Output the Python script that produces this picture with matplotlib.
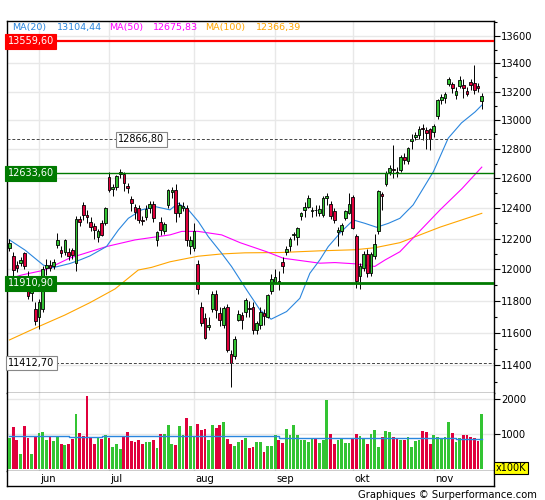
import numpy as np
import matplotlib
matplotlib.use("Agg")
import matplotlib.pyplot as plt
import matplotlib.transforms as mtransforms

# daily candles, late May -> Nov 20
opens = [12140, 12085, 12027, 12040, 12104, 11932, 11850, 11745, 11700, 11745,
         12010, 12027, 12020, 12160, 12125, 12115, 12115, 12125, 12040, 12330,
         12420, 12352, 12310, 12285, 12210, 12300, 12305, 12610, 12525, 12545,
         12630, 12627, 12550, 12460, 12410, 12400, 12325, 12340, 12400, 12430,
         12190, 12310, 12250, 12420, 12505, 12522, 12370, 12400, 12400, 12150,
         12140, 12035, 11763, 11690, 11635, 11750, 11840, 11720, 11645, 11760,
         11470, 11455, 11680, 11710, 11730, 11755, 11760, 11618, 11650, 11720,
         11700, 11860, 11920, 11925, 12050, 12115, 12150, 12220, 12212, 12345,
         12390, 12410, 12380, 12390, 12365, 12352, 12470, 12430, 12380, 12240,
         12250, 12335, 12370, 12475, 12215, 11955, 12010, 12100, 11980, 12085,
         12250, 12495, 12565, 12640, 12660, 12645, 12658, 12745, 12715, 12855,
         12880, 12895, 12945, 12930, 12935, 12915, 13030, 13142, 13155, 13255,
         13250, 13176, 13240, 13245, 13205, 13266, 13262, 13240, 13130]
highs = [12196, 12112, 12055, 12080, 12115, 11990, 11905, 11790, 11810, 12020,
         12070, 12060, 12070, 12235, 12150, 12200, 12140, 12140, 12345, 12350,
         12440, 12390, 12340, 12300, 12265, 12320, 12410, 12640, 12560, 12620,
         12660, 12640, 12570, 12480, 12430, 12420, 12350, 12420, 12450, 12445,
         12250, 12340, 12310, 12530, 12545, 12560, 12440, 12440, 12420, 12215,
         12300, 12060, 11790, 11720, 11700, 11860, 11870, 11760, 11770, 11780,
         11493, 11580, 11740, 11730, 11815, 11800, 11790, 11670, 11760, 11750,
         11845, 11970, 12000, 11990, 12080, 12150, 12210, 12245, 12275, 12375,
         12440, 12490, 12405, 12420, 12420, 12480, 12500, 12450, 12400, 12275,
         12300, 12390, 12500, 12490, 12230, 12040, 12120, 12130, 12110, 12230,
         12520, 12510, 12650, 12690, 12825, 12680, 12760, 12775, 12815, 12900,
         12920, 12960, 12970, 12950, 12945, 12975, 13150, 13185, 13200, 13305,
         13270, 13230, 13310, 13290, 13230, 13290, 13390, 13260, 13190]
lows = [12118, 11960, 11985, 12020, 12005, 11810, 11800, 11650, 11620, 11730,
        11965, 11990, 12000, 12140, 12080, 12090, 12060, 12070, 11990, 12280,
        12320, 12300, 12250, 12200, 12180, 12215, 12290, 12510, 12480, 12520,
        12600, 12515, 12500, 12380, 12330, 12300, 12290, 12320, 12370, 12310,
        12150, 12220, 12230, 12400, 12470, 12310, 12340, 12380, 12150, 12100,
        12120, 11840, 11640, 11560, 11615, 11730, 11690, 11640, 11630, 11480,
        11268, 11440, 11670, 11620, 11700, 11700, 11590, 11590, 11620, 11650,
        11690, 11840, 11910, 11868, 11980, 12090, 12120, 12190, 12160, 12320,
        12340, 12400, 12340, 12350, 12350, 12340, 12420, 12330, 12300, 12150,
        12225, 12320, 12360, 12260, 11880, 11875, 11990, 11950, 11960, 12070,
        12230, 12390, 12550, 12620, 12600, 12610, 12640, 12700, 12700, 12800,
        12860, 12870, 12860, 12800, 12790, 12880, 13010, 13115, 13120, 13240,
        13190, 13150, 13225, 13155, 13170, 13210, 13180, 13200, 13080]
closes = [12169, 11995, 12011, 12062, 12020, 11828, 11880, 11675, 11790, 12000,
          12030, 12010, 12050, 12190, 12105, 12190, 12087, 12092, 12331, 12309,
          12355, 12340, 12278, 12256, 12250, 12225, 12399, 12521, 12540, 12616,
          12640, 12570, 12535, 12436, 12373, 12320, 12318, 12395, 12430, 12335,
          12240, 12255, 12295, 12520, 12522, 12370, 12419, 12415, 12190, 12190,
          12250, 11872, 11658, 11567, 11650, 11845, 11742, 11679, 11755, 11493,
          11413, 11563, 11715, 11680, 11802, 11745, 11615, 11658, 11728, 11701,
          11838, 11939, 11953, 11911, 12025, 12135, 12195, 12228, 12267, 12365,
          12410, 12470, 12385, 12385, 12395, 12470, 12478, 12345, 12320, 12255,
          12288, 12380, 12430, 12267, 11925, 12020, 12100, 11975, 12100, 12165,
          12515, 12480, 12633, 12672, 12654, 12634, 12748, 12725, 12805, 12870,
          12894, 12941, 12939, 12910, 12867, 12961, 13142, 13160, 13182, 13290,
          13228, 13205, 13285, 13222, 13186, 13245, 13212, 13225, 13165]
volumes = [890, 1190, 820, 440, 1220, 890, 440, 940, 1040, 1070,
           830, 920, 800, 940, 710, 690, 710, 860, 1590, 1040,
           950, 2100, 900, 710, 900, 860, 980, 900, 640, 710,
           560, 950, 1070, 810, 770, 830, 710, 770, 770, 830,
           590, 1010, 990, 1250, 710, 690, 1230, 970, 1470, 1220,
           910, 1280, 1120, 1160, 840, 1250, 1170, 1250, 1340, 860,
           720, 650, 770, 830, 890, 590, 620, 770, 770, 480,
           670, 670, 960, 840, 750, 1140, 960, 1260, 960, 830,
           830, 770, 860, 860, 750, 830, 1970, 1010, 720, 830,
           860, 750, 750, 860, 1010, 940, 860, 720, 1010, 1120,
           620, 910, 1100, 1070, 910, 890, 830, 830, 910, 620,
           800, 830, 1100, 1070, 710, 980, 910, 890, 910, 1340,
           1040, 770, 890, 960, 960, 930, 890, 800, 1590]

# moving averages (candle index, value)
ma20_i = [0, 4.2, 9.2, 11.8, 16.4, 19.1, 21.8, 26.3, 29.5, 32.2, 35.8, 39.4, 43.5,
          45.7, 48.5, 51.2, 53.9, 57.5, 60.2, 64.3, 67.9, 70.9, 75.1, 78.7, 81.4,
          84.1, 86.4, 90, 93.2, 96.3, 99.5, 102.7, 105.8, 109.4, 114.9, 118.9,
          122.5, 126.2, 128]
ma20_v = [12191, 12125, 12027, 12011, 12038, 12061, 12087, 12148, 12256, 12333,
          12389, 12411, 12389, 12433, 12389, 12311, 12212, 12104, 12018, 11868,
          11742, 11684, 11732, 11816, 11975, 12061, 12148, 12247, 12322, 12300,
          12274, 12300, 12333, 12422, 12646, 12874, 12980, 13057, 13104]
ma50_i = [0, 3.3, 9.6, 16.4, 21.8, 26.3, 34, 43.5, 46.7, 51.1, 57.5, 62.5, 69.7,
          74.2, 84.1, 88.2, 93.6, 99, 101.8, 105.8, 116.7, 122.6, 128]
ma50_v = [11940, 11964, 11996, 12074, 12114, 12148, 12191, 12224, 12247, 12247,
          12224, 12173, 12114, 12072, 12040, 12044, 12036, 12019, 12061, 12114,
          12389, 12530, 12676]
ma100_i = [0, 7.8, 15, 21.8, 28.6, 34.9, 38.5, 43.5, 51.1, 57.6, 63.8, 73.3, 84.1,
           93.6, 99, 105.8, 116.7, 128]
ma100_v = [11555, 11637, 11710, 11788, 11875, 11996, 12013, 12049, 12085, 12100,
           12107, 12109, 12120, 12127, 12140, 12173, 12275, 12366]

# average volume (steps)
vol_avg_start = [0, 16, 25, 73, 111, 121, 128]
vol_avg_level = [950, 925, 935, 890, 895, 870, 870]

month_names = ["jun", "jul", "aug", "sep", "okt", "nov"]
month_start = [8, 27, 50, 72, 93, 115]

price_ticks = [11400, 11600, 11800, 12000, 12200, 12400, 12600, 12800, 13000, 13200, 13400, 13600]
price_minor = [11300, 11500, 11700, 11900, 12100, 12300, 12500, 12700, 12900, 13100, 13300, 13500, 13700]

levels = [13559.60, 12633.60, 11910.90, 12866.80, 11412.70]
level_text = ["13559,60", "12633,60", "11910,90", "12866,80", "11412,70"]

GREEN = "#33c433"
RED = "#e0003c"
BLUE = "#2a86de"
FS = 7.2

W, H = 545, 500
fig = plt.figure(figsize=(W / 100, H / 100), dpi=100)


def box(l, t, r, b):
    return [l / W, 1 - b / H, (r - l) / W, (b - t) / H]


ax = fig.add_axes(box(6.5, 20.5, 493.6, 393))
axv = fig.add_axes(box(6.5, 393, 493.6, 470.6))
axl = fig.add_axes(box(6.5, 470.6, 493.6, 486.3))

o = np.array(opens, float)
h = np.array(highs, float)
lo = np.array(lows, float)
c = np.array(closes, float)
x = np.arange(len(c))
up = c >= o
cols = [GREEN if u else RED for u in up]

xlim = (-0.81, 131.2)

# price panel
ax.set_yscale("log")
ax.set_xlim(*xlim)
ax.set_ylim(11231, 13712)
for m in month_start:
    ax.axvline(m, color="#e8e8e8", lw=1.0, zorder=0)
for t in price_ticks:
    ax.axhline(t, color="#e8e8e8", lw=1.0, zorder=0)

ax.vlines(x, lo, h, color="black", lw=0.7, zorder=3)
body_lo = np.minimum(o, c)
body_h = np.maximum(np.abs(c - o), 4)
ax.bar(x, body_h, bottom=body_lo, width=0.72, color=cols, edgecolor="black",
       linewidth=0.6, zorder=4)

ax.plot(ma100_i, ma100_v, color="#ffa500", lw=0.8, zorder=2)
ax.plot(ma50_i, ma50_v, color="#ff00ff", lw=0.8, zorder=2)
ax.plot(ma20_i, ma20_v, color=BLUE, lw=0.8, zorder=2)

# horizontal levels
ax.axhline(levels[0], color="#ff0000", lw=1.6, zorder=5)
ax.axhline(levels[1], color="#007a00", lw=1.0, zorder=5)
ax.axhline(levels[2], color="#007a00", lw=2.0, zorder=5)
ax.axhline(levels[3], color="#444444", lw=0.7, ls=(0, (3, 2)), zorder=5)
ax.axhline(levels[4], color="#444444", lw=0.7, ls=(0, (3, 2)), zorder=5)

trans = mtransforms.blended_transform_factory(ax.transAxes, ax.transData)
lab_style = [("#ff0000", "white", "#ff0000", 0.002),
             ("#007a00", "white", "#007a00", 0.002),
             ("#007a00", "white", "#007a00", 0.002),
             ("white", "black", "#888888", 0.229),
             ("white", "black", "#888888", 0.004)]
for lv, txt, (fc, tc, ec, xp) in zip(levels, level_text, lab_style):
    ax.text(xp, lv, txt, transform=trans, ha="left", va="center", fontsize=7.0,
            color=tc, zorder=8,
            bbox=dict(boxstyle="square,pad=0.25", fc=fc, ec=ec, lw=0.8))

ax.yaxis.tick_right()
ax.set_yticks(price_ticks, labels=[str(t) for t in price_ticks])
ax.set_yticks(price_minor, minor=True)
ax.yaxis.set_minor_formatter(matplotlib.ticker.NullFormatter())
ax.tick_params(axis="y", which="major", direction="out", length=4, width=0.8,
               labelsize=FS, pad=1.5)
ax.tick_params(axis="y", which="minor", direction="out", length=2.5, width=0.8)
ax.tick_params(axis="x", bottom=False, labelbottom=False)
for s in ax.spines.values():
    s.set_linewidth(1.0)

# volume panel
axv.set_xlim(*xlim)
axv.set_ylim(-52, 2184)
for m in month_start:
    axv.axvline(m, color="#e8e8e8", lw=1.0, zorder=0)
for t in [1000, 2000]:
    axv.axhline(t, color="#e8e8e8", lw=1.0, zorder=0)
axv.bar(x, volumes, width=0.75, color=cols, zorder=3)
axv.step(vol_avg_start, vol_avg_level, where="post", color=BLUE, lw=1.0, zorder=4)
axv.yaxis.tick_right()
axv.set_yticks([1000, 2000], labels=["1000", "2000"])
axv.tick_params(axis="y", direction="out", length=4, width=0.8, labelsize=FS, pad=1.5)
axv.tick_params(axis="x", bottom=False, labelbottom=False)
for s in axv.spines.values():
    s.set_linewidth(1.0)
axv.spines["top"].set_visible(False)

# month strip
axl.set_xlim(*xlim)
axl.set_ylim(0, 1)
axl.set_xticks([])
axl.set_yticks([])
axl.spines["top"].set_visible(False)
for s in axl.spines.values():
    s.set_linewidth(1.0)
for name, m in zip(month_names, month_start):
    axl.text(m + 0.4, 0.45, name, ha="left", va="center", fontsize=FS)

# legend
leg = [("MA(20)", 12.2, BLUE), ("13104,44", 57.4, BLUE),
       ("MA(50)", 109.5, "#ff00ff"), ("12675,83", 153, "#ff00ff"),
       ("MA(100)", 205, "#ffa500"), ("12366,39", 255.5, "#ffa500")]
for txt, px, col in leg:
    fig.text(px / W, 1 - 27.8 / H, txt, color=col, fontsize=6.8, ha="left", va="center")

fig.text(511 / W, 1 - 468 / H, "x100K", fontsize=7.0, ha="center", va="center",
         bbox=dict(boxstyle="square,pad=0.15", fc="#ffff00", ec="black", lw=0.8))
fig.text(537 / W, 1 - 495 / H, "Graphiques \u00a9 Surperformance.com", fontsize=7.2,
         ha="right", va="center")

fig.savefig("out.png", dpi=100)
